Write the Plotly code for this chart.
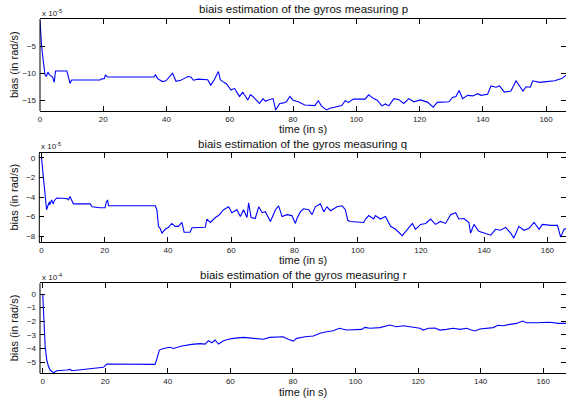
import plotly.graph_objects as go

W, H = 566, 405

# ---- data ----
t_p = [0, 0.5, 1.05, 1.6, 2.0, 2.5, 3.0, 3.4, 4.0, 4.5, 4.9, 8.5, 9.5, 10.0, 19.0, 19.5, 20.3, 20.7, 21.3,
       36.0, 36.5, 37.2, 38.7, 39.8, 41.9, 43.0, 44.5, 45.5, 46.8, 47.7, 48.5, 50, 53, 54, 55.1, 56.4, 57.0,
       57.8, 59.0, 60.4, 61.5, 62.3, 63.1, 64.1, 65.7, 66.5, 67.3, 68.4, 69.4, 70.5, 71.3, 72, 73.7, 74.5,
       75.8, 77, 77.9, 79, 80, 81.6, 83.7, 86.9, 88, 89, 90.6, 91.7, 93.3, 95.4, 96.5, 97.5, 99.1, 102.8,
       103.9, 105.5, 106.6, 108.1, 109.2, 110.3, 111.9, 113.5, 115, 116.6, 118.2, 120.3, 122.5, 124.3,
       125.6, 129.3, 130.4, 131.5, 132.5, 133.6, 135.2, 136.8, 138.4, 139.4, 141.5, 142.6, 144.2, 145.3,
       146.8, 148.9, 150.5, 151.5, 152.7, 153.7, 155, 155.8, 157.9, 160.1, 162.7, 164.9, 166.5]
v_p = [-0.2, -5, -7.8, -10.3, -10.6, -9.8, -10.3, -10.4, -10.7, -11.7, -9.6, -9.6, -11.9, -11.25, -11.25,
       -11.05, -11.0, -10.3, -10.7, -10.7, -10.3, -11.0, -11.55, -11.4, -10.0, -11.5, -11.3, -11.0, -10.6,
       -10.7, -11.3, -11.1, -11.2, -12.2, -11.2, -9.7, -11.2, -11.55, -12.0, -13.1, -12.8, -13.6, -14.3,
       -13.5, -14.95, -14.0, -14.3, -15.0, -15.6, -14.7, -15.2, -15.0, -14.7, -16.8, -15.6, -15.5, -15.3,
       -14.3, -15.0, -15.3, -15.9, -16.0, -15.1, -16.1, -16.8, -16.5, -16.3, -16.0, -15.1, -15.4, -14.8,
       -14.8, -14.0, -14.7, -15.0, -16.05, -15.7, -16.05, -14.7, -14.9, -15.6, -14.7, -15.3, -14.95, -15.35,
       -16.3, -15.4, -15.3, -14.5, -14.3, -13.2, -14.7, -14.1, -14.2, -13.8, -14.1, -13.9, -12.35, -12.6,
       -12.35, -13.5, -13.3, -11.4, -12.2, -13.3, -12.5, -12.6, -11.4, -11.7, -11.55, -11.4, -11.0, -10.3]

t_q = [0, 0.6, 0.9, 1.3, 1.6, 1.9, 2.5, 2.6, 3.2, 3.7, 4.0, 4.8, 8.0, 8.5, 9.0, 9.5, 10.1, 15.4, 16.0, 18.5,
       20.1, 20.5, 20.9, 21.2, 36.0, 36.5, 37.0, 37.5, 38.1, 39.1, 40.2, 41.2, 42.3, 43.3, 44.4, 45.1, 47.0,
       47.6, 51.8, 52.3, 53.4, 55.0, 56.0, 57.6, 59.2, 60.2, 61.8, 62.9, 63.9, 65.0, 65.5, 66.3, 67.6, 68.7,
       69.8, 70.8, 72.4, 74.0, 75.0, 76.1, 77.7, 79.2, 80.3, 80.8, 81.9, 82.9, 84.5, 85.6, 86.6, 88.2, 89.3,
       90.3, 91.4, 93.5, 95.1, 96.1, 96.9, 97.7, 101.9, 102.5, 103.5, 105.1, 105.6, 107.2, 108.8, 110.4,
       112.0, 114.1, 115.7, 117.3, 118.3, 119.9, 121.5, 123.1, 124.6, 126.2, 127.8, 129.4, 131.0, 132.0,
       133.6, 135.2, 135.7, 136.8, 138.3, 140.5, 142.1, 143.6, 145.2, 146.8, 148.4, 149.4, 151.0, 152.6,
       154.2, 155.8, 157.4, 158.4, 161.1, 163.2, 164.2, 165.3, 166.1]
v_q = [0, -1.9, -3.4, -4.5, -5.3, -5.0, -4.5, -4.8, -4.3, -4.7, -4.4, -4.1, -4.15, -4.3, -3.95, -4.3, -4.7,
       -4.7, -5.0, -5.1, -5.1, -4.5, -4.3, -4.9, -4.9, -5.3, -7.0, -7.2, -7.7, -7.3, -7.1, -6.7, -7.0, -7.0,
       -6.6, -7.6, -7.6, -7.15, -7.1, -6.25, -6.6, -6.1, -5.9, -5.3, -5.0, -5.6, -5.3, -6.0, -5.3, -6.1, -4.6,
       -6.1, -6.2, -5.0, -5.6, -5.5, -6.5, -5.3, -4.9, -6.0, -5.8, -5.9, -6.7, -6.2, -5.5, -5.2, -5.3, -5.8,
       -5.0, -4.7, -5.5, -5.0, -5.4, -5.0, -4.9, -5.3, -6.4, -6.5, -6.6, -6.25, -5.9, -6.25, -5.9, -6.25,
       -6.0, -7.0, -7.3, -7.95, -7.3, -6.7, -7.3, -6.8, -6.7, -6.25, -6.8, -6.5, -6.7, -5.8, -5.6, -6.25,
       -6.2, -6.6, -7.7, -6.8, -7.5, -7.7, -7.9, -7.3, -7.4, -7.1, -7.7, -8.2, -7.0, -7.4, -7.2, -6.6, -7.3,
       -6.8, -6.9, -6.9, -8.1, -7.3, -7.2]

t_r = [0, 0.4, 0.8, 1.3, 1.8, 2.4, 3.5, 4.0, 4.5, 7.7, 8.8, 9.3, 14.1, 16.2, 19.4, 20.5, 22.6, 35.9, 36.4,
       37.3, 38.6, 40.7, 41.8, 44.5, 47.7, 50.3, 51.9, 53.0, 54.1, 55.1, 56.2, 57.8, 59.4, 61.0, 64.2, 67.3,
       70.5, 72.6, 74.8, 76.9, 78.5, 80.1, 81.2, 83.9, 86.5, 88.7, 90.8, 92.9, 94.8, 97.2, 102.0, 103.0,
       104.6, 107.8, 111.0, 113.1, 115.3, 118.0, 120.6, 121.7, 123.3, 125.4, 127.0, 129.1, 131.2, 133.4,
       135.5, 137.1, 138.2, 139.8, 141.9, 144.0, 145.6, 147.2, 149.4, 151.5, 153.4, 154.7, 157.9, 162.1,
       164.8, 167.3]
v_r = [0, -2.4, -3.87, -4.85, -5.29, -5.59, -5.78, -5.71, -5.64, -5.59, -5.54, -5.64, -5.54, -5.47, -5.39,
       -5.15, -5.15, -5.17, -4.85, -4.12, -4.0, -3.92, -4.0, -3.82, -3.7, -3.65, -3.68, -3.43, -3.58, -3.38,
       -3.68, -3.43, -3.33, -3.26, -3.19, -3.26, -3.33, -3.19, -3.19, -3.14, -3.33, -3.46, -3.26, -3.14,
       -3.09, -2.89, -2.77, -2.7, -2.52, -2.65, -2.6, -2.45, -2.52, -2.47, -2.28, -2.4, -2.33, -2.4, -2.52,
       -2.65, -2.52, -2.5, -2.65, -2.6, -2.52, -2.6, -2.52, -2.65, -2.72, -2.57, -2.52, -2.47, -2.3, -2.33,
       -2.23, -2.16, -1.99, -2.11, -2.11, -2.08, -2.16, -2.16]

x_ticks = [0, 20, 40, 60, 80, 100, 120, 140, 160]
y_ticks_p = [-5, -10, -15]
y_ticks_q = [0, -2, -4, -6, -8]
y_ticks_r = [0, -1, -2, -3, -4, -5]
titles = ["biais estimation of the gyros measuring p",
          "biais estimation of the gyros measuring q",
          "biais estimation of the gyros measuring r"]
exponents = ["x 10<sup>-5</sup>", "x 10<sup>-5</sup>", "x 10<sup>-4</sup>"]
x_title = "time (in s)"
y_title = "bias (in rad/s)"

FONT = "Liberation Sans, Arial, Helvetica, sans-serif"

def px_x(p):
    return p / W

def px_y(p):
    return 1 - p / H

# panels: (left px, top px, bottom px, xrange, yrange)
panels = [
    (40.0, 19.0, 111.0, [0, 166.3], [-17.0, 0.05]),
    (39.3, 153.0, 242.0, [-0.7, 165.9], [-8.6, 0.5]),
    (40.0, 283.3, 373.3, [-0.86, 167.3], [-5.83, 0.79]),
]
series = [(t_p, v_p, y_ticks_p), (t_q, v_q, y_ticks_q), (t_r, v_r, y_ticks_r)]
title_y = [8.5, 143.5, 275.0]
xtitle_y = [129.0, 260.0, 392.0]
exp_y = [13.0, 145.5, 276.5]

fig = go.Figure()
layout = dict(width=W, height=H, margin=dict(l=0, r=0, t=0, b=0),
              paper_bgcolor="white", plot_bgcolor="white", showlegend=False,
              font=dict(family=FONT, color="black"))
annotations = []
shapes = []
for i, ((left, top, bot, xr, yr), (tt, vv, yt)) in enumerate(zip(panels, series)):
    n = "" if i == 0 else str(i + 1)
    fig.add_trace(go.Scatter(x=tt, y=vv, mode="lines", line=dict(color="#0000ff", width=1.1),
                             xaxis="x" + n, yaxis="y" + n, hoverinfo="skip"))
    layout["xaxis" + n] = dict(domain=[px_x(left), 1], range=xr, anchor="y" + n,
                               tickvals=x_ticks, ticks="inside", ticklen=5, tickcolor="black",
                               showline=True, linecolor="black", linewidth=1, mirror="ticks",
                               showgrid=False, zeroline=False, tickfont=dict(size=8, color="#222"),
                               automargin=False)
    layout["yaxis" + n] = dict(domain=[px_y(bot), px_y(top)], range=yr, anchor="x" + n,
                               tickvals=yt, ticks="inside", ticklen=5, tickcolor="black",
                               showline=False, mirror="ticks",
                               showgrid=False, zeroline=False, tickfont=dict(size=8, color="#222"),
                               ticklabelstandoff=3, automargin=False)
    # left frame line
    shapes.append(dict(type="line", xref="x" + n + " domain", yref="y" + n + " domain",
                       x0=0, x1=0, y0=0, y1=1, line=dict(color="black", width=1)))
    cx = (left + W) / 2
    annotations += [
        dict(text=titles[i], x=px_x(cx), y=px_y(title_y[i]), xref="paper", yref="paper",
             showarrow=False, xanchor="center", yanchor="middle", font=dict(size=11.5, color="#111")),
        dict(text=x_title, x=px_x(cx), y=px_y(xtitle_y[i]), xref="paper", yref="paper",
             showarrow=False, xanchor="center", yanchor="middle", font=dict(size=11, color="#111")),
        dict(text=y_title, x=px_x(14), y=px_y((top + bot) / 2), xref="paper", yref="paper",
             showarrow=False, xanchor="center", yanchor="middle", textangle=-90,
             font=dict(size=11, color="#111")),
        dict(text=exponents[i], x=px_x(left), y=px_y(exp_y[i]), xref="paper", yref="paper",
             showarrow=False, xanchor="left", yanchor="middle", font=dict(size=8, color="#222")),
    ]
layout["annotations"] = annotations
layout["shapes"] = shapes
fig.update_layout(**layout)
fig.write_html("out.html", config={"displayModeBar": False},
               post_script="document.body.style.margin='0';document.body.style.overflow='hidden';")
